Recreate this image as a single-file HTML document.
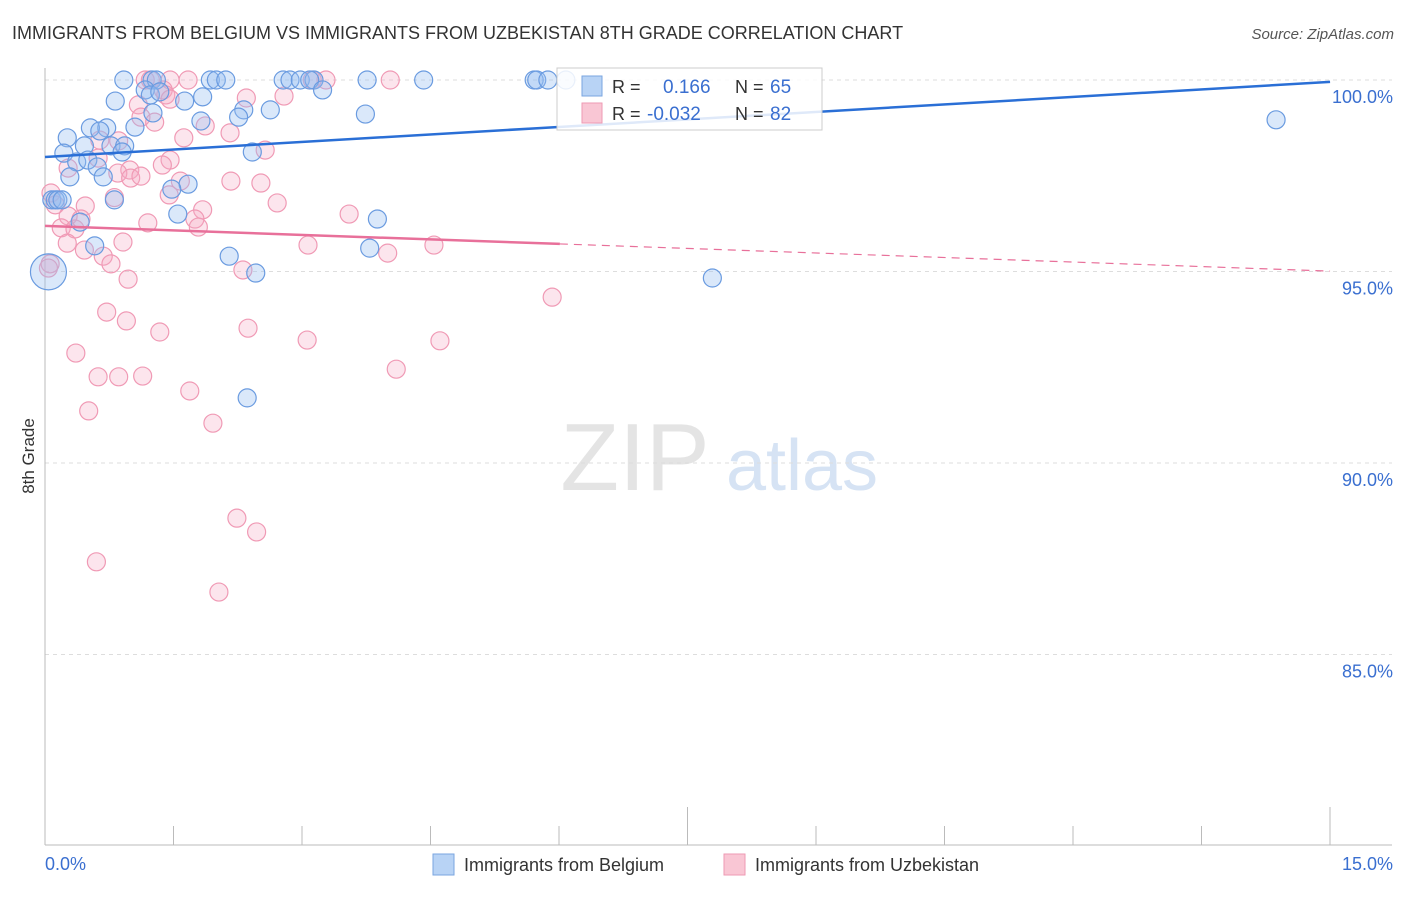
<!DOCTYPE html>
<html><head><meta charset="utf-8">
<style>
body{margin:0;background:#fff;font-family:"Liberation Sans",sans-serif;}
svg text{font-family:"Liberation Sans",sans-serif;}
</style></head>
<body>
<svg id="chart" width="1406" height="892" viewBox="0 0 1406 892" xmlns="http://www.w3.org/2000/svg">
<text x="12" y="39" font-size="18" fill="#333">IMMIGRANTS FROM BELGIUM VS IMMIGRANTS FROM UZBEKISTAN 8TH GRADE CORRELATION CHART</text>
<text x="1394" y="39" font-size="15" fill="#555" text-anchor="end" font-style="italic">Source: ZipAtlas.com</text>
<text transform="translate(34,456) rotate(-90)" font-size="17" fill="#333" text-anchor="middle">8th Grade</text>
<g>
<text x="635" y="490" font-size="96" fill="#e4e4e4" font-family="Liberation Serif" text-anchor="middle">ZIP</text>
<text x="802" y="490" font-size="72" fill="#d6e3f4" text-anchor="middle">atlas</text>
</g>
<g id="grid"></g>
<g id="axes"></g>
<g id="points"></g>
<g id="trends"></g>
<g>
<rect x="557" y="68" width="265" height="62" fill="#fff" fill-opacity="0.85" stroke="#ccc"/>
<rect x="582" y="76" width="20" height="20" fill="#b8d3f5" stroke="#7aa6e0"/>
<rect x="582" y="103" width="20" height="20" fill="#f9c6d4" stroke="#ee9ab3"/>
<text x="612" y="93" font-size="18" fill="#333">R =</text>
<text x="663" y="93" font-size="19" fill="#3a6fd0">0.166</text>
<text x="735" y="93" font-size="18" fill="#333">N =</text>
<text x="770" y="93" font-size="19" fill="#3a6fd0">65</text>
<text x="612" y="120" font-size="18" fill="#333">R =</text>
<text x="647" y="120" font-size="19" fill="#3a6fd0">-0.032</text>
<text x="735" y="120" font-size="18" fill="#333">N =</text>
<text x="770" y="120" font-size="19" fill="#3a6fd0">82</text>
</g>
<g>
<rect x="433" y="854" width="21" height="21" fill="#b8d3f5" stroke="#7aa6e0"/>
<text x="464" y="871" font-size="18" fill="#333">Immigrants from Belgium</text>
<rect x="724" y="854" width="21" height="21" fill="#f9c6d4" stroke="#ee9ab3"/>
<text x="755" y="871" font-size="18" fill="#333">Immigrants from Uzbekistan</text>
</g>
</svg>
<script>
const xTickVals=[0,1,2,3,4,5,6,7,8,9,10];
const yTickVals=[100,95,90,85];
const yTickLabels=["100.0%","95.0%","90.0%","85.0%"];
const xEndLabels=["0.0%","15.0%"];
const belgiumX=[0.92,1.25,1.30,1.93,2.00,2.11,2.78,2.86,2.98,3.14,3.76,4.42,5.71,5.74,5.87,6.08,3.09,1.17,1.23,1.34,0.82,1.63,1.84,3.24,1.26,2.32,2.63,3.74,1.82,2.26,1.05,0.72,0.53,0.64,0.26,0.46,0.77,0.93,0.22,0.90,2.42,0.37,0.50,0.61,0.29,0.68,1.67,1.48,0.08,0.12,0.15,0.20,0.81,1.55,0.41,3.88,0.58,2.15,2.46,3.79,7.79,2.36,14.37];
const belgiumY=[100,100,100,100,100,100,100,100,100,100,100,100,100,100,100,100,100,99.74,99.61,99.69,99.45,99.45,99.56,99.74,99.14,99.22,99.22,99.11,98.93,99.03,98.77,98.75,98.75,98.67,98.49,98.28,98.28,98.28,98.09,98.12,98.12,97.86,97.91,97.73,97.47,97.47,97.28,97.15,96.87,96.87,96.87,96.87,96.87,96.50,96.29,96.37,95.67,95.40,94.96,95.61,94.83,91.70,98.96];
const uzbekX=[1.17,1.23,1.46,1.67,3.12,3.28,4.03,1.38,1.41,1.09,1.46,2.35,2.79,1.12,1.28,1.87,1.62,2.16,0.64,0.86,1.46,1.37,0.99,2.57,0.85,1.00,1.12,0.27,0.62,2.17,2.52,1.58,1.45,1.84,2.71,0.07,0.12,0.47,0.27,0.19,0.35,0.42,1.75,1.79,3.55,1.20,0.46,0.26,0.91,0.68,0.77,0.97,3.07,4.00,4.54,0.06,0.04,2.31,0.72,0.95,1.34,2.37,3.06,4.61,5.92,0.36,0.62,0.86,1.14,1.69,0.51,4.10,1.96,2.24,2.47,0.60,2.03,0.81];
const uzbekY=[100,100,100,100,100,100,100,99.74,99.61,99.35,99.50,99.53,99.58,99.03,98.90,98.80,98.49,98.62,98.43,98.41,97.91,97.78,97.65,98.17,97.57,97.44,97.49,97.70,97.96,97.36,97.31,97.36,97.00,96.61,96.79,97.05,96.74,96.71,96.45,96.14,96.11,96.37,96.37,96.16,96.50,96.27,95.56,95.74,95.77,95.40,95.20,94.80,95.69,95.48,95.69,95.20,95.09,95.04,93.94,93.71,93.42,93.52,93.21,93.19,94.33,92.87,92.25,92.25,92.27,91.88,91.36,92.45,91.04,88.56,88.20,87.42,86.63,96.93];
const belgiumTrendY=[97.99,99.95];
const uzbekTrendY=[96.19,95.72,95.01];
const uzbekTrendX=[0,6.01,15];

const NS="http://www.w3.org/2000/svg";
const X=v=>45+v*85.67;
const Y=v=>80+(100-v)*38.3;
function mk(tag,attrs,parent){const e=document.createElementNS(NS,tag);for(const k in attrs)e.setAttribute(k,attrs[k]);parent.appendChild(e);return e;}
const grid=document.getElementById('grid'),axes=document.getElementById('axes'),pts=document.getElementById('points'),tr=document.getElementById('trends');
yTickVals.forEach((v,i)=>{
 const l=mk('line',{x1:45,x2:1392,y1:Y(v),y2:Y(v),stroke:'#ddd','stroke-dasharray':'4,4'},grid);
 
 
 const t=mk('text',{x:1393,y:Y(v)+23,'font-size':18,fill:'#3a6fd0','text-anchor':'end'},grid);
 t.textContent=yTickLabels[i];
 
 
});
const ya=mk('line',{x1:45,x2:45,y1:68,y2:845,stroke:'#bbb'},axes);


const xa=mk('line',{x1:45,x2:1392,y1:845,y2:845,stroke:'#bbb'},axes);


xTickVals.forEach(v=>{
 const px=45+v*128.5;
 const tall=(v===5||v===10);
 const tk=mk('line',{x1:px,x2:px,y1:tall?807:826,y2:845,stroke:'#bbb'},axes);
 
 
});
const xl0=mk('text',{x:45,y:870,'font-size':18,fill:'#3a6fd0'},axes);
xl0.textContent=xEndLabels[0];


const xl1=mk('text',{x:1393,y:870,'font-size':18,fill:'#3a6fd0','text-anchor':'end'},axes);
xl1.textContent=xEndLabels[1];


uzbekX.forEach((x,i)=>{
 const c=mk('circle',{cx:X(x),cy:Y(uzbekY[i]),r:9,fill:'rgba(246,170,195,0.3)',stroke:'#f09ab5','stroke-width':1.2},pts);
 
 
});
belgiumX.forEach((x,i)=>{
 const big=(i===belgiumX.length-1)?false:false;
 const c=mk('circle',{cx:X(x),cy:Y(belgiumY[i]),r:9,fill:'rgba(150,190,240,0.35)',stroke:'#6a9be0','stroke-width':1.2},pts);
 
 
});
const bigc=mk('circle',{cx:X(0.04),cy:Y(94.99),r:18,fill:'rgba(150,190,240,0.35)',stroke:'#6a9be0','stroke-width':1.2},pts);


const bl=mk('line',{x1:X(0),y1:Y(belgiumTrendY[0]),x2:X(15),y2:Y(belgiumTrendY[1]),stroke:'#2a6fd6','stroke-width':2.5},tr);


const ul=mk('line',{x1:X(uzbekTrendX[0]),y1:Y(uzbekTrendY[0]),x2:X(uzbekTrendX[1]),y2:Y(uzbekTrendY[1]),stroke:'#e8709a','stroke-width':2.5},tr);


const ud=mk('line',{x1:X(uzbekTrendX[1]),y1:Y(uzbekTrendY[1]),x2:X(uzbekTrendX[2]),y2:Y(uzbekTrendY[2]),stroke:'#e8709a','stroke-width':1.2,'stroke-dasharray':'8,6'},tr);


</script>
</body></html>
